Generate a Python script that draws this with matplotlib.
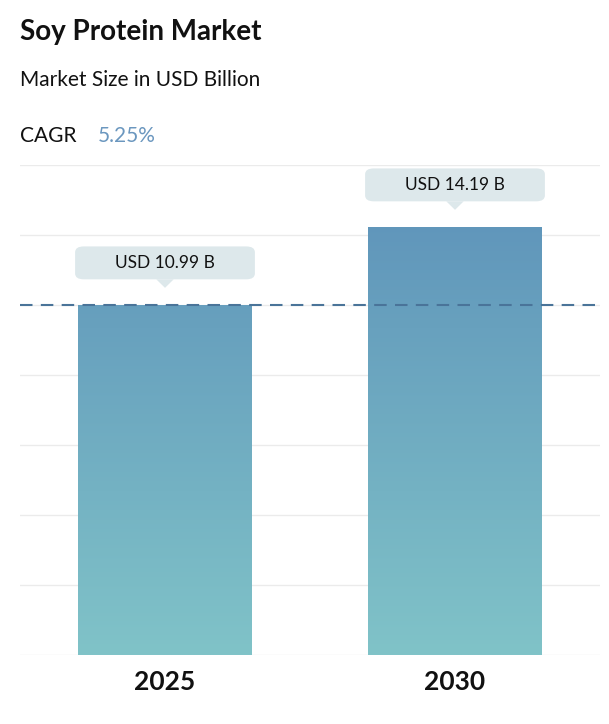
import matplotlib
matplotlib.use("Agg")
import matplotlib.pyplot as plt
import numpy as np
from matplotlib.colors import LinearSegmentedColormap
from matplotlib.patches import FancyBboxPatch, Polygon

plt.rcParams["font.family"] = "Lato"

years = ["2025", "2030"]
values = [10.99, 14.19]
labels = ["USD 10.99 B", "USD 14.19 B"]
cagr = "5.25%"

fig = plt.figure(figsize=(6.09, 7.24), dpi=100)
# axes: x 20..600 px, y 165..655 px
ax = fig.add_axes([20/609, 1-655/724, 580/609, 490/724])
ymin, ymax = -3.37, 16.73
ax.set_ylim(ymin, ymax)
ax.set_xlim(-0.5, 1.5)
for s in ax.spines.values():
    s.set_visible(False)
ax.set_xticks([])
ax.set_yticks([])
for g in np.linspace(ymin, ymax, 8):
    ax.axhline(g, color="#ebebeb", lw=1, zorder=0)

cmap = LinearSegmentedColormap.from_list("g", ["#80c3c8", "#5c90b9"])
grad = np.linspace(0, 1, 256).reshape(-1, 1)
w = 0.6
for i, v in enumerate(values):
    im = ax.imshow(grad, cmap=cmap, origin="lower", aspect="auto",
                   extent=(i - w/2, i + w/2, ymin, ymax), zorder=1)
    rect = plt.Rectangle((i - w/2, ymin), w, v - ymin, transform=ax.transData)
    im.set_clip_path(rect)
    # label box
    by = v + 1.05
    box = FancyBboxPatch((i - 0.31, by), 0.62, 1.35,
                         boxstyle="round,pad=0,rounding_size=0.03",
                         fc="#dde8eb", ec="none", zorder=3, mutation_aspect=8)
    ax.add_patch(box)
    ax.add_patch(Polygon([(i - 0.03, by), (i + 0.03, by), (i, by - 0.35)],
                         closed=True, fc="#dde8eb", ec="none", zorder=3))
    ax.text(i, by + 0.67, labels[i], ha="center", va="center", fontsize=12.5,
            color="#111111", zorder=4)
    ax.text(i, ymin - 0.6, years[i], ha="center", va="top", fontsize=19,
            fontweight="bold", color="#111111")

ax.axhline(values[0], color="#4a7499", lw=1.5, ls=(0, (6, 4)), zorder=2)

fig.text(20/609, 1-32/724, "Soy Protein Market", fontsize=20, fontweight="bold",
         va="center", color="#111111")
fig.text(20/609, 1-80/724, "Market Size in USD Billion", fontsize=15,
         va="center", color="#111111")
t = fig.text(20/609, 1-136/724, "CAGR ", fontsize=15, va="center", color="#111111")
fig.text(98/609, 1-136/724, cagr, fontsize=15, va="center", color="#6b97bf")

fig.savefig("out.png", dpi=100)
